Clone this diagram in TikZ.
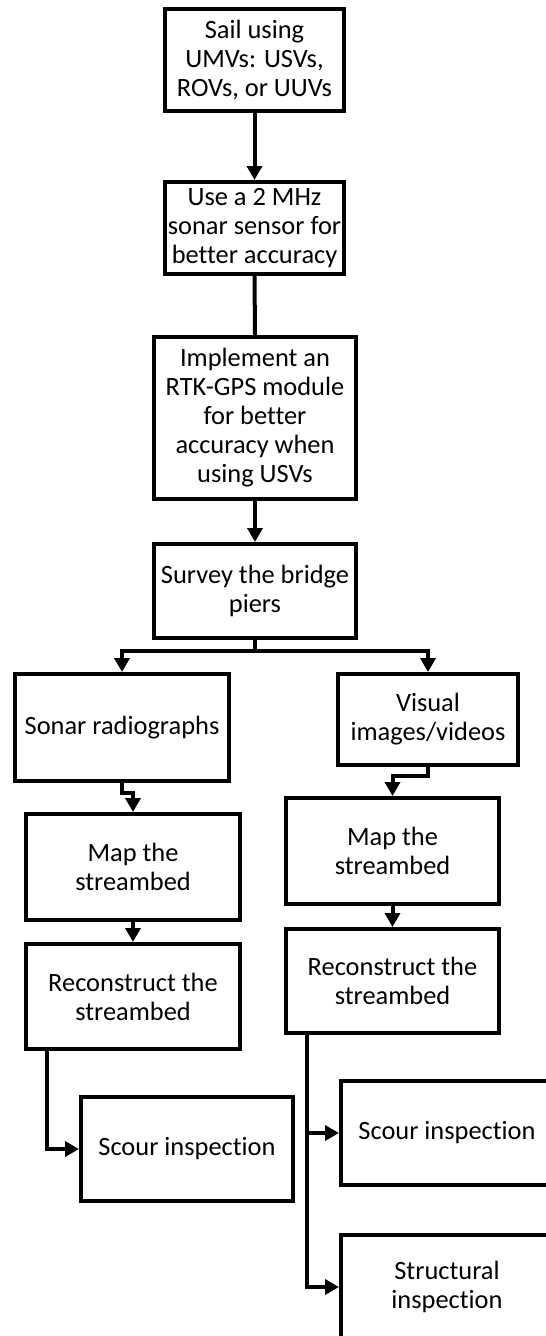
\documentclass[tikz,border=0pt]{standalone}
\usepackage{fontspec}
\setmainfont{Carlito}[Ligatures={NoCommon}]
\usetikzlibrary{arrows.meta}

\tikzset{
  box/.style={draw, line width=4pt, align=center, inner sep=0pt,
    font=\fontsize{26.4}{29}\selectfont},
  arrow/.style={line width=4pt, -{Triangle[width=15pt,length=14pt]}},
  link/.style={line width=4pt}
}

\begin{document}
\begin{tikzpicture}[x=1pt,y=-1pt]

  \useasboundingbox (0,0) rectangle (546,1336);
  \clip (0,0) rectangle (546,1336);

  % main column
  \node[box, minimum width=179pt, minimum height=102pt] (sail) at (254.5,60) {Sail using\\UMVs: USVs,\\ROVs, or UUVs};
  \node[box, minimum width=179pt, minimum height=92pt] (sensor) at (254.5,228) {Use a 2 MHz\\sonar sensor for\\better accuracy};
  \node[box, minimum width=202pt, minimum height=162pt] (rtk) at (255,418) {Implement an\\RTK-GPS module\\for better\\accuracy when\\using USVs};
  \node[box, minimum width=202pt, minimum height=94pt] (survey) at (255,591) {Survey the bridge\\piers};

  % sonar branch (left)
  \node[box, minimum width=214pt, minimum height=107pt] (sonar) at (122,727.5) {Sonar radiographs};
  \node[box, minimum width=214pt, minimum height=106pt] (mapL) at (133,867) {Map the\\streambed};
  \node[box, minimum width=214pt, minimum height=105pt] (recL) at (133,996.5) {Reconstruct the\\streambed};
  \node[box, minimum width=212pt, minimum height=104pt] (scourL) at (187,1149) {Scour inspection};

  % visual branch (right)
  \node[box, minimum width=180pt, minimum height=91pt] (visual) at (428,719.5) {Visual\\images/videos};
  \node[box, minimum width=213pt, minimum height=106pt] (mapR) at (392.5,851) {Map the\\streambed};
  \node[box, minimum width=213pt, minimum height=104pt] (recR) at (392.5,981) {Reconstruct the\\streambed};
  \node[box, minimum width=212pt, minimum height=104pt] (scourR) at (447,1133) {Scour inspection};
  \node[box, minimum width=212pt, minimum height=104pt] (struct) at (447,1287) {Structural\\inspection};

  % connectors in the main column
  \draw[arrow] (sail.south) -- (sensor.north);
  \draw[link] (sensor.south) -- (rtk.north);
  \draw[arrow] (rtk.south) -- (survey.north);

  % split after the survey
  \coordinate (split) at (255,651);
  \draw[arrow] (survey.south) -- (split) -| (sonar.north);
  \draw[arrow] (split) -| (visual.north);

  % left column
  \coordinate (jogL) at (122,793);
  \draw[arrow] (sonar.south) -- (jogL) -| (mapL.north);
  \draw[arrow] (mapL.south) -- (recL.north);
  \coordinate (tapL) at ([xshift=23pt]recL.south west);
  \draw[arrow] (tapL) |- (scourL.west);

  % right column
  \coordinate (jogR) at (428,776);
  \draw[arrow] (visual.south) -- (jogR) -| (mapR.north);
  \draw[arrow] (mapR.south) -- (recR.north);
  \coordinate (tapR) at ([xshift=23pt]recR.south west);
  \draw[arrow] (tapR) |- (scourR.west);
  \draw[arrow] (tapR) |- (struct.west);

\end{tikzpicture}
\end{document}
